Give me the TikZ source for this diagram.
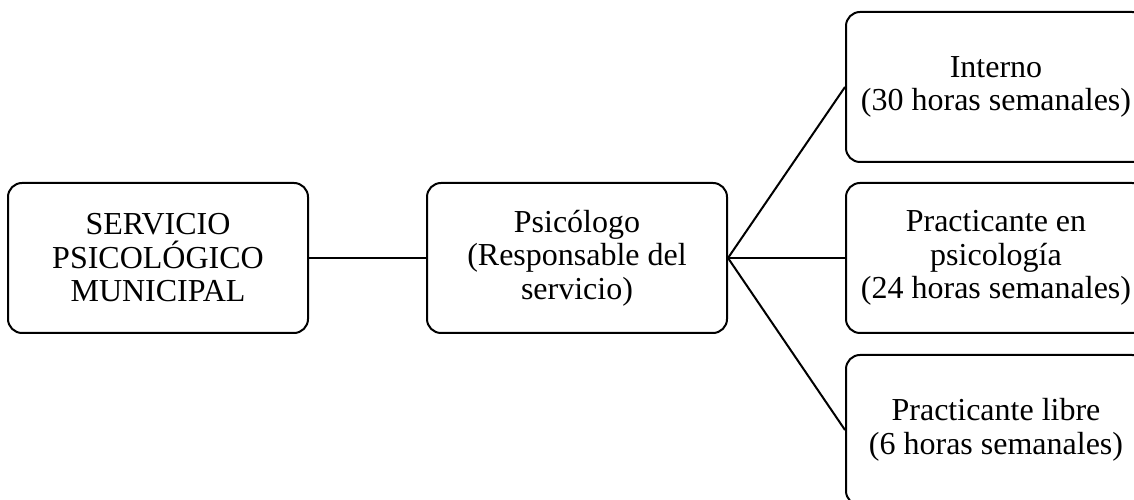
\documentclass[tikz,border=0pt]{standalone}
\usepackage{fontspec}
\setmainfont{Liberation Serif}
\begin{document}
\begin{tikzpicture}[x=1pt,y=1pt,
  box/.style={draw=black, line width=2pt, rounded corners=14pt, minimum width=300pt, minimum height=150pt, inner sep=0pt, align=center, font=\fontsize{32}{33.5}\selectfont},
  link/.style={draw=black, line width=2pt}]
\useasboundingbox (0,0) rectangle (1134,500);
\clip (0,0) rectangle (1134,500);
\node[box] (svc) at (158,242) {SERVICIO\\PSICOLÓGICO\\MUNICIPAL};
\node[box] (psi) at (577,242) {Psicólogo\\(Responsable del\\servicio)};
\node[box] (int) at (996,413) {Interno\\(30 horas semanales)};
\node[box] (pep) at (996,242) {Practicante en\\psicología\\(24 horas semanales)};
\node[box] (pl) at (996,70) {Practicante libre\\(6 horas semanales)};
\draw[link] (svc.east) -- (psi.west);
\draw[link] (psi.east) -- (int.west);
\draw[link] (psi.east) -- (pep.west);
\draw[link] (psi.east) -- (pl.west);
\end{tikzpicture}
\end{document}
